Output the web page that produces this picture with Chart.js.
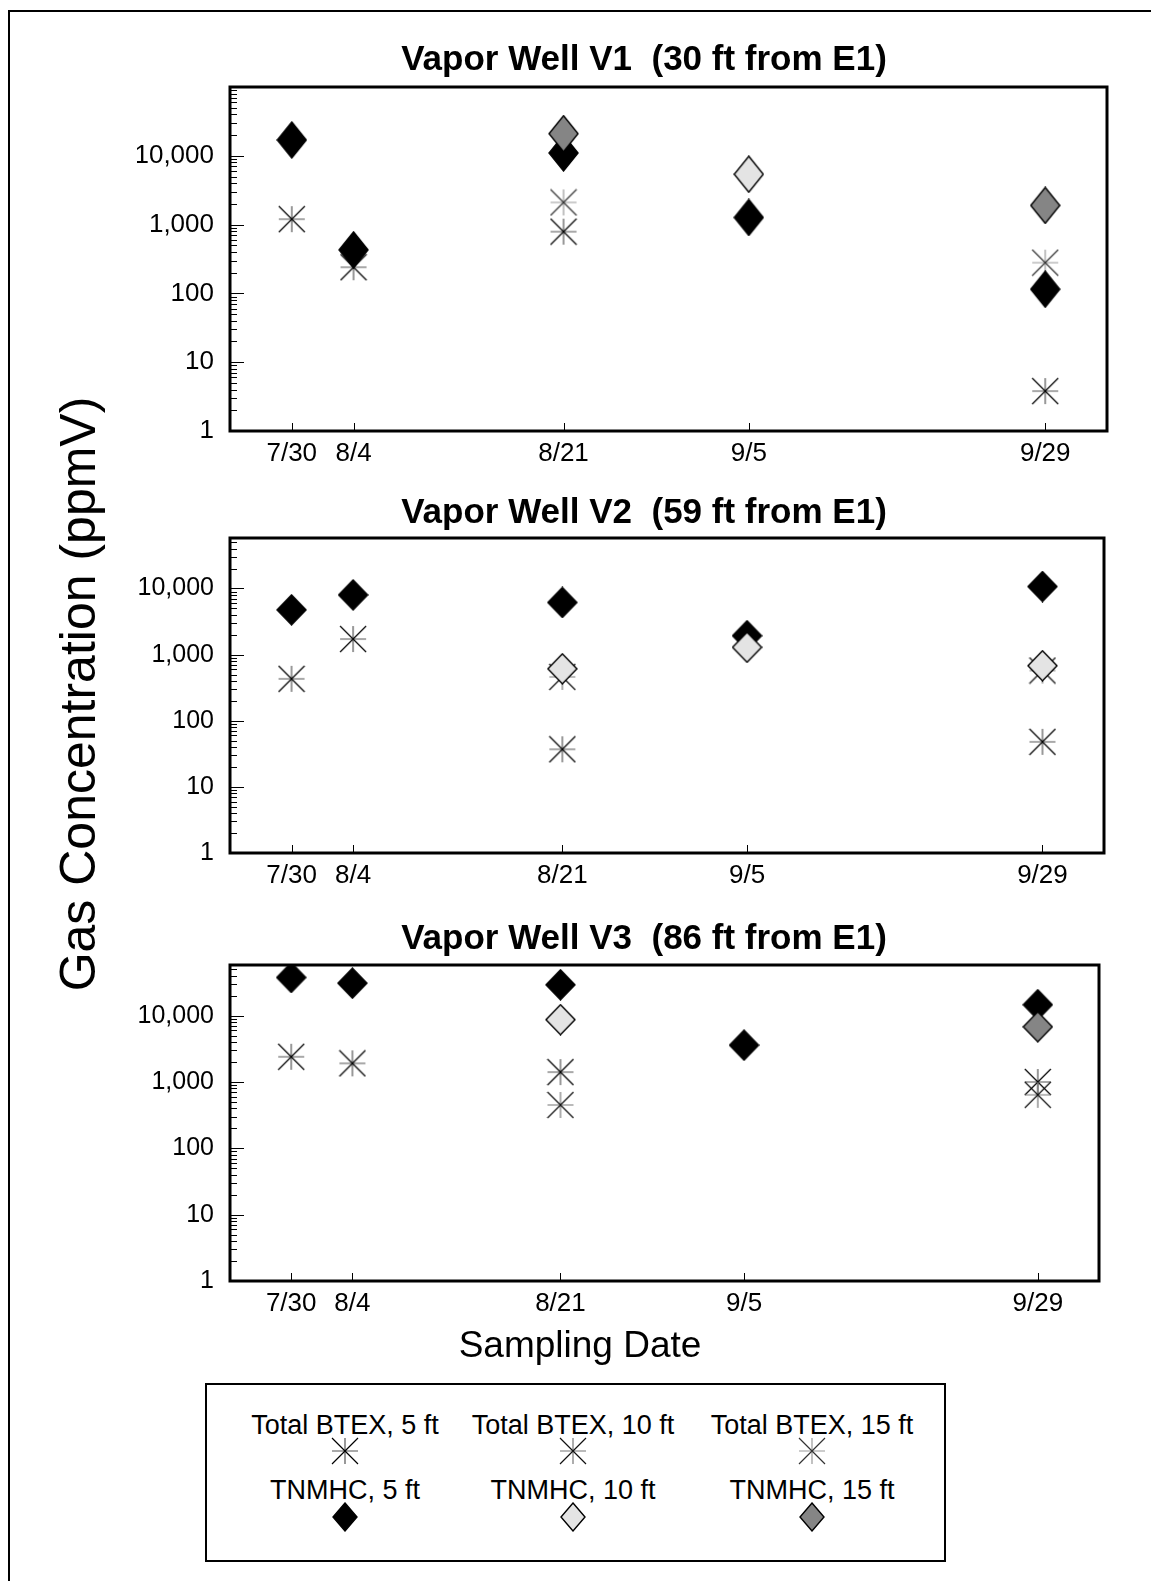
<!DOCTYPE html>
<html>
<head>
<meta charset="utf-8">
<script src="https://cdn.jsdelivr.net/npm/chart.js@4.4.1/dist/chart.umd.min.js"></script>
<style>
  body { margin: 0; background: #fff; width: 1151px; height: 1581px; position: relative; overflow: hidden; }
  .frame { position: absolute; left: 8px; top: 10px; width: 1143px; height: 1571px; border-top: 2px solid #000; border-left: 2px solid #000; }
  canvas.well { position: absolute; left: 137px; }
  .axis-title { position: absolute; font-family: 'Liberation Sans', Arial, sans-serif; color: #000; white-space: nowrap; transform: translate(-50%, -50%); }
  #legend { position: absolute; left: 205px; top: 1383px; width: 741px; height: 179px; border: 2px solid #000; box-sizing: border-box; }
  #legend .item { position: absolute; transform: translate(-50%, -50%); font-family: 'Liberation Sans', Arial, sans-serif; font-size: 27px; white-space: nowrap; }
  #legend canvas { position: absolute; transform: translate(-50%, -50%); }
</style>
</head>
<body>
<div class="frame"></div>
<canvas id="well1" class="well" width="1014" height="440" style="top:36px"></canvas>
<canvas id="well2" class="well" width="1014" height="409" style="top:489px"></canvas>
<canvas id="well3" class="well" width="1014" height="411" style="top:915px"></canvas>
<div class="axis-title" style="left:78px; top:694px; font-size:50px; transform: translate(-50%, -50%) rotate(-90deg);">Gas Concentration (ppmV)</div>
<div class="axis-title" style="left:580px; top:1345px; font-size:37px;">Sampling Date</div>
<div id="legend"></div>

<script>
// sampling dates and days since 7/30
const dates = ['7/30', '8/4', '8/21', '9/5', '9/29'];
const dayOfSeason = [0, 5, 22, 37, 61];
const yTicks = [1, 10, 100, 1000, 10000];
const depths = ['5 ft', '10 ft', '15 ft'];

// Vapor well V1, ppmV
const v1Btex5 = [1200, 240, 790, null, 3.8];
const v1Btex10 = [null, null, null, null, null];
const v1Btex15 = [null, null, 2100, null, 280];
const v1Tnmhc5 = [17000, 430, 11000, 1270, 115];
const v1Tnmhc10 = [null, null, null, 5400, null];
const v1Tnmhc15 = [null, null, 21000, null, 1900];

// Vapor well V2
const v2Btex5 = [430, 1720, 37, null, 48];
const v2Btex10 = [null, null, 460, null, 575];
const v2Btex15 = [null, null, null, null, null];
const v2Tnmhc5 = [4750, 8000, 6150, 1930, 10700];
const v2Tnmhc10 = [null, null, 610, 1290, 680];
const v2Tnmhc15 = [null, null, null, null, null];

// Vapor well V3
const v3Btex5 = [2400, 1910, 1410, null, 1000];
const v3Btex10 = [null, null, 450, null, 640];
const v3Btex15 = [null, null, null, null, null];
const v3Tnmhc5 = [37600, 30900, 29200, 3590, 14600];
const v3Tnmhc10 = [null, null, 8700, null, null];
const v3Tnmhc15 = [null, null, null, null, 6800];

const FONT = "'Liberation Sans', Arial, sans-serif";

// marker images
function diamond(w, h, fill) {
  const c = document.createElement('canvas');
  c.width = w + 2; c.height = h + 2;
  const g = c.getContext('2d');
  g.beginPath();
  g.moveTo(c.width / 2, 1);
  g.lineTo(c.width - 1, c.height / 2);
  g.lineTo(c.width / 2, c.height - 1);
  g.lineTo(1, c.height / 2);
  g.closePath();
  g.fillStyle = fill;
  g.fill();
  g.lineWidth = 1.4;
  g.strokeStyle = '#000';
  g.stroke();
  return c;
}

function asterisk(size, diag, cross) {
  const c = document.createElement('canvas');
  c.width = size + 2; c.height = size + 2;
  const g = c.getContext('2d');
  const m = c.width / 2, r = size / 2;
  g.lineWidth = 1.2;
  g.strokeStyle = cross;
  g.beginPath();
  g.moveTo(m - r, m); g.lineTo(m + r, m);
  g.moveTo(m, m - r); g.lineTo(m, m + r);
  g.stroke();
  g.strokeStyle = diag;
  g.beginPath();
  g.moveTo(m - r, m - r); g.lineTo(m + r, m + r);
  g.moveTo(m + r, m - r); g.lineTo(m - r, m + r);
  g.stroke();
  return c;
}

const diamondFill = ['#000', '#e4e4e4', '#858585'];
const starInk = [['#000', '#555'], ['#111', '#777'], ['#333', '#999']];

function points(values) {
  return values.map((v, i) => v == null ? null : { x: dayOfSeason[i], y: v }).filter(p => p);
}

// title, inward tick marks and heavy plot frame
const frameTicks = {
  id: 'frameTicks',
  afterDraw(chart, args, opts) {
    const { ctx, chartArea: a, scales: { x, y } } = chart;
    ctx.save();
    ctx.strokeStyle = '#000';
    ctx.lineWidth = 1;
    ctx.beginPath();
    for (let p = 1; p <= y.max; p *= 10) {
      for (let k = 1; k <= 9; k++) {
        const v = k * p;
        if (v > y.max) break;
        const py = Math.round(y.getPixelForValue(v)) + 0.5;
        ctx.moveTo(a.left, py);
        ctx.lineTo(a.left + (k === 1 ? 14 : 7), py);
      }
    }
    x.ticks.forEach(t => {
      const px = Math.round(x.getPixelForValue(t.value)) + 0.5;
      ctx.moveTo(px, a.bottom);
      ctx.lineTo(px, a.bottom - 8);
    });
    ctx.stroke();
    ctx.lineWidth = 3;
    ctx.strokeRect(a.left, a.top, a.right - a.left, a.bottom - a.top);

    ctx.fillStyle = '#000';
    ctx.font = 'bold 35px ' + FONT;
    ctx.textAlign = 'center';
    ctx.textBaseline = 'middle';
    ctx.fillText(opts.text, opts.x, opts.y);
    ctx.restore();
  }
};

function wellChart(id, title, btex, tnmhc, yMax, layout) {
  const datasets = [];
  // diamonds drawn over asterisks, deeper samples on top
  for (let d = 2; d >= 0; d--) {
    datasets.push({
      label: 'TNMHC, ' + depths[d],
      data: points(tnmhc[d]),
      pointStyle: diamond(29, layout.diamondH, diamondFill[d]),
      pointRadius: 15
    });
  }
  for (let d = 2; d >= 0; d--) {
    datasets.push({
      label: 'Total BTEX, ' + depths[d],
      data: points(btex[d]),
      pointStyle: asterisk(26, starInk[d][0], starInk[d][1]),
      pointRadius: 13
    });
  }
  return new Chart(document.getElementById(id), {
    type: 'scatter',
    data: { datasets },
    options: {
      responsive: false,
      animation: false,
      devicePixelRatio: 1,
      layout: { padding: { left: 0, right: layout.right, top: layout.top, bottom: 0 } },
      plugins: {
        legend: { display: false },
        tooltip: { enabled: false },
        title: { display: false },
        frameTicks: { text: title, x: 507, y: layout.titleY }
      },
      scales: {
        x: {
          type: 'linear',
          min: -5,
          max: 66,
          grid: { display: false, drawTicks: false },
          border: { display: false },
          afterBuildTicks: s => { s.ticks = dayOfSeason.map(v => ({ value: v })); },
          afterFit: s => { s.height = 45; },
          ticks: {
            color: '#000',
            padding: 7,
            font: { family: FONT, size: 26 },
            callback: (v, i) => dates[i]
          }
        },
        y: {
          type: 'logarithmic',
          min: 1,
          max: yMax,
          bounds: 'data',
          grid: { display: false, drawTicks: false },
          border: { display: false },
          afterBuildTicks: s => { s.ticks = yTicks.map(v => ({ value: v })); },
          afterFit: s => { s.width = 93; },
          ticks: {
            color: '#000',
            padding: 16,
            font: { family: FONT, size: layout.tickSize },
            callback: v => Number(v).toLocaleString('en-US')
          }
        }
      }
    },
    plugins: [frameTicks]
  });
}

wellChart('well1', 'Vapor Well V1  (30 ft from E1)',
  [v1Btex5, v1Btex10, v1Btex15], [v1Tnmhc5, v1Tnmhc10, v1Tnmhc15], 100000,
  { top: 51, right: 44, titleY: 24, tickSize: 26, diamondH: 36 });
wellChart('well2', 'Vapor Well V2  (59 ft from E1)',
  [v2Btex5, v2Btex10, v2Btex15], [v2Tnmhc5, v2Tnmhc10, v2Tnmhc15], 58000,
  { top: 49, right: 47, titleY: 24, tickSize: 25, diamondH: 30 });
wellChart('well3', 'Vapor Well V3  (86 ft from E1)',
  [v3Btex5, v3Btex10, v3Btex15], [v3Tnmhc5, v3Tnmhc10, v3Tnmhc15], 58000,
  { top: 50, right: 52, titleY: 24, tickSize: 25, diamondH: 30 });

// shared legend: label above marker, one column per depth
const legend = document.getElementById('legend');
const colX = [138, 366, 605];
function place(el, x, y) {
  el.style.left = x + 'px';
  el.style.top = y + 'px';
  legend.appendChild(el);
}
depths.forEach((dep, d) => {
  const t1 = document.createElement('div');
  t1.className = 'item';
  t1.textContent = 'Total BTEX, ' + dep;
  place(t1, colX[d], 40);
  place(asterisk(26, starInk[d][0], starInk[d][1]), colX[d], 66);
  const t2 = document.createElement('div');
  t2.className = 'item';
  t2.textContent = 'TNMHC, ' + dep;
  place(t2, colX[d], 105);
  place(diamond(24, 28, diamondFill[d]), colX[d], 132);
});
</script>
</body>
</html>
